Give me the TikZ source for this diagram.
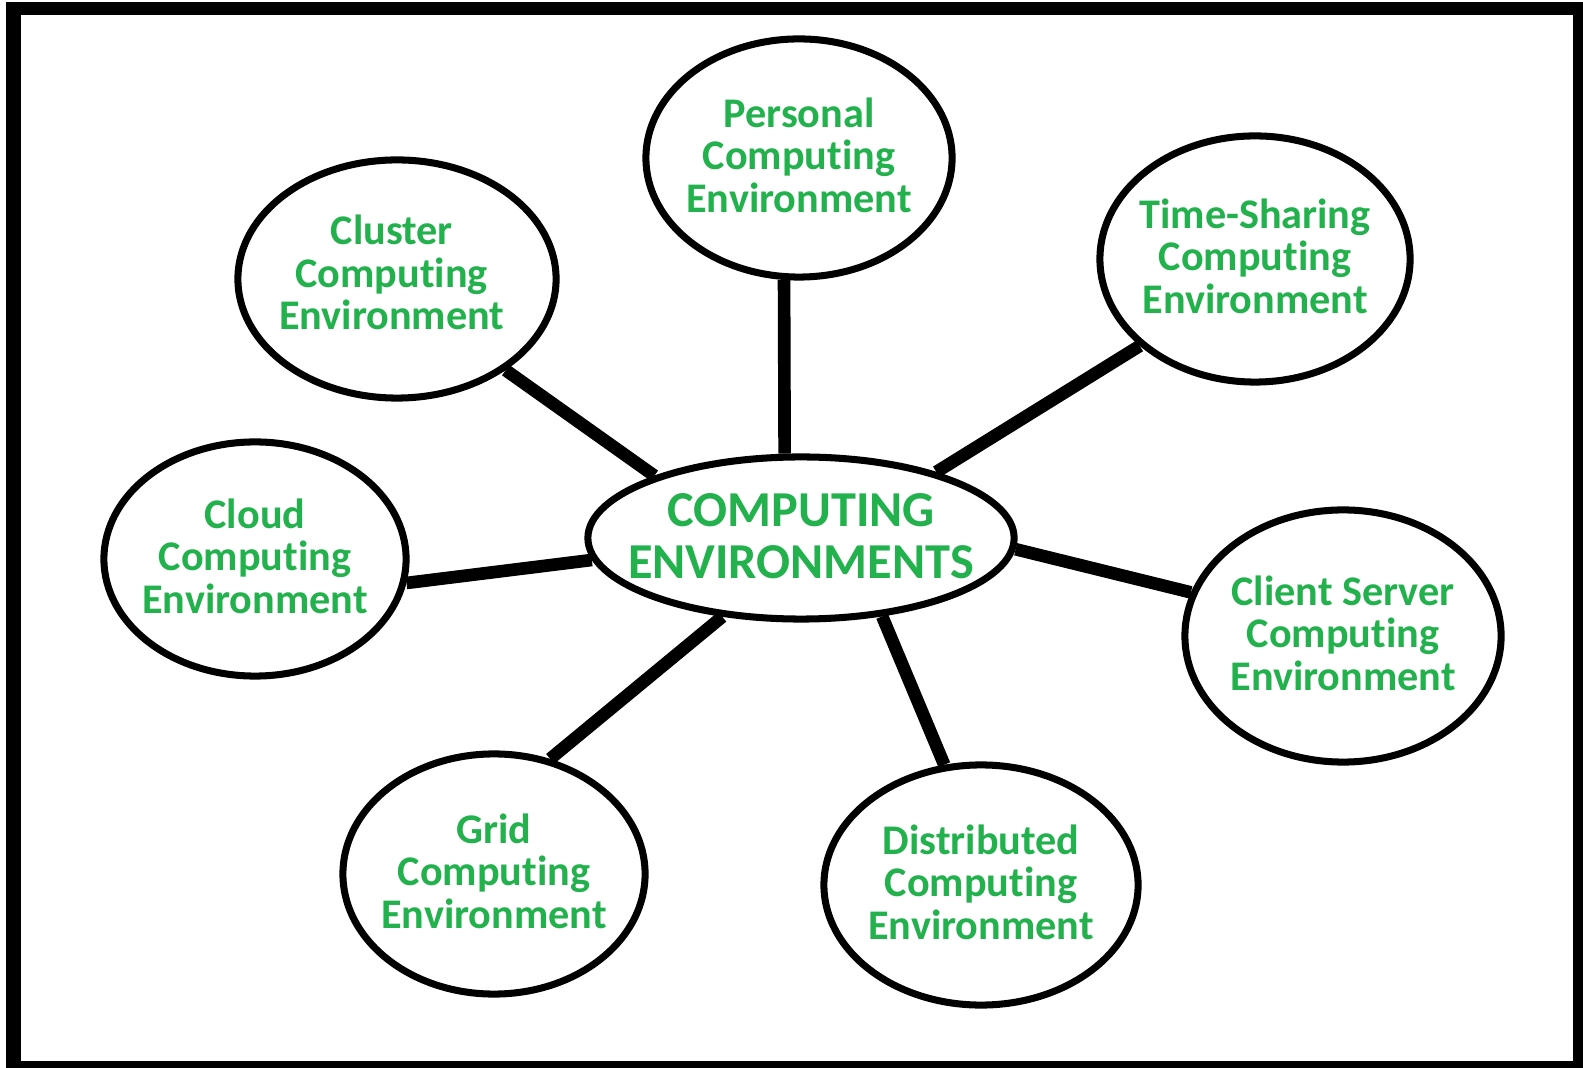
\documentclass[tikz,border=0pt]{standalone}
\usepackage{fontspec}
\setmainfont{Carlito}[Ligatures=NoCommon]
\usepackage{xcolor}
\usepackage{tikz}
\usetikzlibrary{shapes.geometric}

\definecolor{envgreen}{RGB}{34,177,76}

\begin{document}
\begin{tikzpicture}[x=0.01cm,y=-0.01cm,
    env/.style={ellipse,draw=black,line width=2pt,inner sep=0pt},
    envtext/.style={align=center,text=envgreen,inner sep=0pt,yshift=0.8pt,
      font=\bfseries\fontsize{12}{12.1}\selectfont},
    hubtext/.style={envtext,yshift=-0.4pt,font=\bfseries\fontsize{14.3}{14.8}\selectfont},
    link/.style={line width=3.6pt}]
    \useasboundingbox (0,0) rectangle (1583,1068);
    \fill[white] (0,0) rectangle (1583,1068);
    % frame
    \fill[black] (6,2) rectangle (1583,1068);
    \fill[white] (21,15) rectangle (1573,1061);

    \node[env,minimum width=4.26cm,minimum height=1.62cm,
      label={[hubtext]center:COMPUTING\\ENVIRONMENTS}] (hub) at (801,538) {};
    \node[env,minimum width=3.06cm,minimum height=2.38cm,
      label={[envtext]center:Personal\\Computing\\Environment}] (personal) at (799,158) {};
    \node[env,minimum width=3.18cm,minimum height=2.38cm,
      label={[envtext,xshift=-1.5pt,yshift=1pt]center:Cluster\\Computing\\Environment}] (cluster) at (397,279) {};
    \node[env,minimum width=3.10cm,minimum height=2.46cm,
      label={[envtext]center:Time-Sharing\\Computing\\Environment}] (timeshare) at (1255,259) {};
    \node[env,minimum width=3.02cm,minimum height=2.34cm,
      label={[envtext]center:Cloud\\Computing\\Environment}] (cloud) at (255,559) {};
    \node[env,minimum width=3.16cm,minimum height=2.52cm,
      label={[envtext]center:Client Server\\Computing\\Environment}] (client) at (1343,636) {};
    \node[env,minimum width=3.02cm,minimum height=2.40cm,
      label={[envtext]center:Grid\\Computing\\Environment}] (grid) at (494,874) {};
    \node[env,minimum width=3.14cm,minimum height=2.40cm,
      label={[envtext]center:Distributed\\Computing\\Environment}] (distrib) at (981,885) {};

    \draw[link] (personal.263.5) -- (hub.101);
    \draw[link] (cluster.-40) -- (hub.157.9);
    \draw[link] (timeshare.217.6) -- (hub.26.6);
    \draw[link] (cloud.-9) -- (hub.186.5);
    \draw[link] (hub.-3.2) -- (client.164);
    \draw[link] (grid.64) -- (hub.225);
    \draw[link] (hub.-44.6) -- (distrib.107.8);
\end{tikzpicture}
\end{document}
